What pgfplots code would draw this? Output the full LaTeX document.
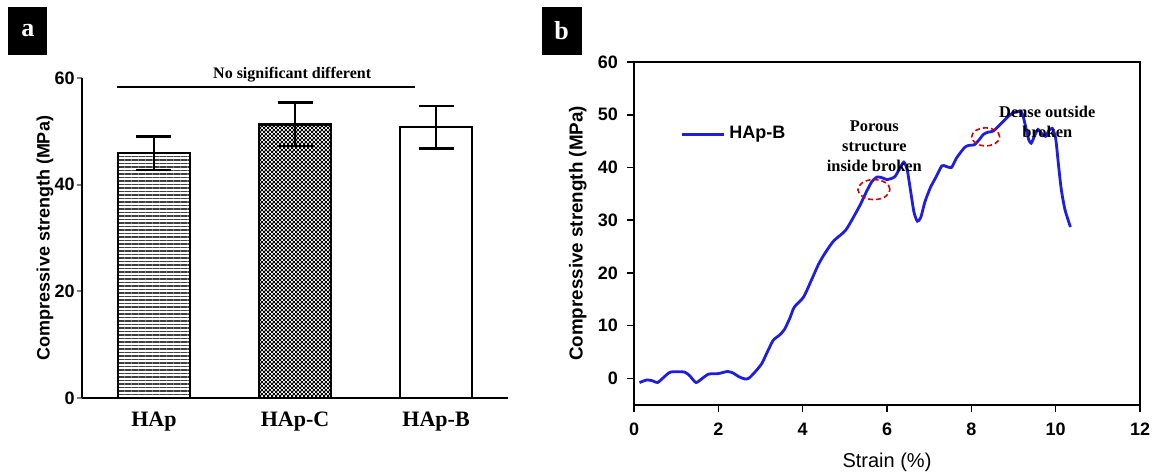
\documentclass[border=0pt]{standalone}
\usepackage{fontspec}
\setmainfont{Liberation Serif}
\setsansfont{Liberation Sans}
\usepackage{pgfplots}
\pgfplotsset{compat=1.18}
\pgfplotsset{/pgf/number format/assume math mode=true}
\usetikzlibrary{patterns,patterns.meta}

\definecolor{curveblue}{RGB}{30,30,225}

% fine checkerboard for HAp-C
\pgfdeclarepatternformonly{finecheck}{\pgfpointorigin}{\pgfpoint{2.2pt}{2.2pt}}{\pgfpoint{2.2pt}{2.2pt}}{%
  \pgfpathrectangle{\pgfpointorigin}{\pgfpoint{1.2pt}{1.2pt}}%
  \pgfpathrectangle{\pgfpoint{1.1pt}{1.1pt}}{\pgfpoint{1.2pt}{1.2pt}}%
  \pgfusepath{fill}}

\begin{document}
\begin{tikzpicture}
\path[use as bounding box] (0,0) rectangle (580.5pt,237.5pt);

% panel tags
\node[fill=black, minimum width=19.5pt, minimum height=24pt, inner sep=0pt,
      text=white, font=\rmfamily\bfseries\fontsize{13}{13}\selectfont] at (13.9pt,222pt) {a};
\node[fill=black, minimum width=20pt, minimum height=24pt, inner sep=0pt,
      text=white, font=\rmfamily\bfseries\fontsize{13}{13}\selectfont] at (280.8pt,222pt) {b};

% ---- panel a: bars ----
\begin{axis}[
    at={(41pt,38.5pt)}, anchor=south west,
    scale only axis, width=213pt, height=160pt,
    xmin=-0.51, xmax=2.51, ymin=0, ymax=60,
    axis x line*=bottom, axis y line*=left,
    axis line style={line width=1pt},
    xtick={0,1,2}, xticklabels={HAp, HAp-C, HAp-B},
    x tick style={draw=none},
    xticklabel style={font=\rmfamily\bfseries\fontsize{11}{11}\selectfont, yshift=-1pt},
    ytick={0,20,40,60},
    tick align=outside, major tick length=2.5pt,
    y tick style={line width=1pt},
    yticklabel style={font=\sffamily\bfseries\fontsize{9}{9}\selectfont, inner sep=1pt},
    ylabel={Compressive strength (MPa)},
    ylabel style={font=\sffamily\bfseries\fontsize{9}{9}\selectfont,
      at={(axis description cs:-0.087,0.5)}, anchor=center},
    clip=false,
]
\addplot[ybar, bar width=36pt, bar shift=0pt, draw=black, line width=1.3pt,
    pattern={Lines[distance=1.75pt, angle=0, line width=0.7pt]}, pattern color=black!75,
    error bars/.cd, y dir=both, y explicit,
    error bar style={line width=1.2pt},
    error mark options={rotate=90, mark size=8.75pt, line width=1.2pt}]
  coordinates {(0,45.9) +- (0,3.1)};
\addplot[ybar, bar width=36pt, bar shift=0pt, draw=black, line width=1.3pt,
    pattern=finecheck, pattern color=black,
    error bars/.cd, y dir=both, y explicit,
    error bar style={line width=1.2pt},
    error mark options={rotate=90, mark size=8.75pt, line width=1.2pt}]
  coordinates {(1,51.3) +- (0,4.1)};
\addplot[ybar, bar width=36pt, bar shift=0pt, draw=black, line width=1.3pt, fill=white,
    error bars/.cd, y dir=both, y explicit,
    error bar style={line width=1.2pt},
    error mark options={rotate=90, mark size=8.75pt, line width=1.2pt}]
  coordinates {(2,50.8) +- (0,4.0)};
\draw[line width=1.2pt] (axis cs:-0.26,58.3) -- (axis cs:1.85,58.3);
\node[font=\rmfamily\bfseries\fontsize{8}{8}\selectfont] at (axis cs:0.98,60.6) {No significant different};
\end{axis}

% ---- panel b: stress-strain curve ----
\begin{axis}[
    at={(317pt,35.15pt)}, anchor=south west,
    scale only axis, width=253pt, height=171.35pt,
    xmin=0, xmax=12, ymin=-5, ymax=60,
    axis line style={line width=1pt},
    xtick={0,2,...,12}, ytick={0,10,...,60},
    xtick pos=bottom, ytick pos=left,
    tick align=outside, major tick length=3.5pt,
    tick style={line width=0.8pt, black},
    ticklabel style={font=\sffamily\bfseries\fontsize{9}{9}\selectfont},
    yticklabel style={xshift=-1pt},
    xticklabel style={yshift=-2pt},
    xlabel={Strain (\%)},
    xlabel style={font=\sffamily\fontsize{10}{10}\selectfont,
      at={(axis description cs:0.5,-0.167)}, anchor=center},
    ylabel={Compressive strength (MPa)},
    ylabel style={font=\sffamily\bfseries\fontsize{9.4}{9.4}\selectfont,
      at={(axis description cs:-0.111,0.5)}, anchor=center},
    legend style={at={(axis cs:0.95,46.3)}, anchor=west, draw=none, fill=none,
      font=\sffamily\bfseries\fontsize{9}{9}\selectfont},
    legend cell align=left,
    legend image code/.code={\draw[#1] (0cm,0cm) -- (21pt,0cm);},
    clip=false,
]
\addplot[curveblue, line width=1.4pt, smooth, tension=0.4] coordinates {
(0.13,-0.8) (0.31,-0.3) (0.45,-0.5) (0.56,-0.8) (0.72,0.3) (0.87,1.2)
(1.19,1.2) (1.32,0.5) (1.47,-0.8) (1.62,0.0) (1.77,0.8) (2.00,0.9)
(2.22,1.3) (2.35,1.0) (2.49,0.3) (2.62,-0.1) (2.72,0.0) (2.87,1.2)
(3.03,2.8) (3.15,4.8) (3.30,7.2) (3.45,8.2) (3.57,9.3) (3.70,11.5)
(3.80,13.5) (4.02,15.4) (4.20,18.5) (4.38,21.7) (4.55,24.0) (4.74,26.1)
(5.01,28.0) (5.20,30.5) (5.37,33.0) (5.50,35.2) (5.64,37.3) (5.77,38.2)
(5.90,38.0) (6.00,37.7) (6.18,38.2) (6.30,39.8) (6.40,41.0) (6.48,39.5)
(6.56,35.5) (6.64,31.5) (6.72,29.8) (6.80,30.5) (6.90,33.5) (7.03,36.2)
(7.15,38.0) (7.30,40.3) (7.40,40.2) (7.53,40.0) (7.65,41.8) (7.84,43.8)
(7.95,44.2) (8.07,44.3) (8.18,45.2) (8.29,46.3) (8.40,46.7) (8.52,46.9)
(8.70,48.3) (8.88,49.7) (9.00,50.4) (9.19,50.5) (9.28,48.0) (9.36,45.3)
(9.42,44.6) (9.50,46.0) (9.58,47.2) (9.68,46.3) (9.76,45.9) (9.84,47.0)
(9.92,47.4) (10.00,45.5) (10.06,41.0) (10.13,36.0) (10.22,32.0) (10.35,28.7)
};
\legend{HAp-B}
\draw[red!85!black, line width=0.8pt, dash pattern=on 2.5pt off 1.5pt]
  (axis cs:5.69,35.8) ellipse [x radius=8pt, y radius=5pt];
\draw[red!85!black, line width=0.8pt, dash pattern=on 2.5pt off 1.5pt]
  (axis cs:8.34,45.8) ellipse [x radius=7pt, y radius=4.5pt];
\node[font=\rmfamily\bfseries\fontsize{8.2}{10}\selectfont, align=center]
  at (axis cs:5.70,44.1) {Porous\\structure\\inside broken};
\node[font=\rmfamily\bfseries\fontsize{8.2}{10}\selectfont, align=center]
  at (axis cs:9.80,48.7) {Dense outside\\broken};
\end{axis}
\end{tikzpicture}
\end{document}
